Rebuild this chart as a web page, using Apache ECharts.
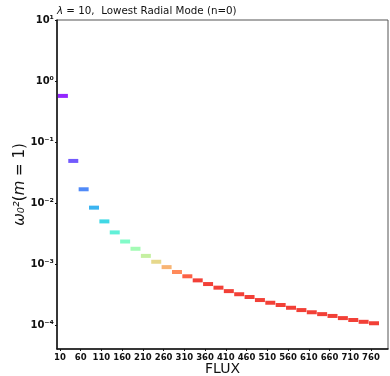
<!DOCTYPE html>
<html>
<head>
<meta charset="utf-8">
<script src="https://cdn.jsdelivr.net/npm/echarts@6/dist/echarts.min.js"></script>
<style>
  html, body { margin: 0; padding: 0; background: #fff; }
  #main { width: 390px; height: 376px; }
</style>
</head>
<body>
<div id="main"></div>
<script>
// flux values (x) and lowest radial mode omega_0^2 (y)
const flux = [10, 35, 60, 85, 110, 135, 160, 185, 210, 235, 260, 285, 310, 335, 360, 385,
  410, 435, 460, 485, 510, 535, 560, 585, 610, 635, 660, 685, 710, 735, 760];
const omega2 = [0.57, 0.049, 0.0168, 0.0084, 0.0050, 0.0033, 0.00234, 0.00178, 0.00136,
  0.00109, 0.00089, 0.00074, 0.00063, 0.00054, 0.00047, 0.00041, 0.00036, 0.00032,
  0.000288, 0.000257, 0.000232, 0.000213, 0.000192, 0.000176, 0.000162, 0.000151,
  0.000141, 0.000130, 0.000121, 0.000113, 0.000107];
const xTicks = [10, 60, 110, 160, 210, 260, 310, 360, 410, 460, 510, 560, 610, 660, 710, 760];
const yTickLabels = { '1': '10¹', '0': '10⁰', '-1': '10⁻¹', '-2': '10⁻²', '-3': '10⁻³', '-4': '10⁻⁴' };

// rainbow colormap
const rainbow = ['#8000ff', '#4d4ffc', '#1996f3', '#1acee3', '#4df3ce', '#80ffb4',
  '#b3f396', '#e6ce74', '#ff964f', '#ff4f28', '#f01e14'];

const chart = echarts.init(document.getElementById('main'));

chart.setOption({
  animation: false,
  backgroundColor: '#fff',
  textStyle: { fontFamily: 'DejaVu Sans' },
  title: {
    text: '{it|λ}{n| = 10,  Lowest Radial Mode (n=0)}',
    left: 57,
    top: 6,
    padding: 0,
    textStyle: {
      fontWeight: 'normal',
      rich: {
        it: { fontStyle: 'italic', fontWeight: 'normal', fontSize: 10.3, color: '#111', fontFamily: 'DejaVu Sans' },
        n: { fontWeight: 'normal', fontSize: 10.3, color: '#111', fontFamily: 'DejaVu Sans' }
      }
    }
  },
  grid: {
    left: 57, right: 2, top: 20, bottom: 27,
    outerBoundsMode: 'none',
    show: true,
    borderColor: '#555',
    borderWidth: 1
  },
  visualMap: {
    show: false,
    type: 'continuous',
    dimension: 0,
    min: 10,
    max: 335,
    inRange: { color: rainbow }
  },
  xAxis: {
    type: 'value',
    min: 3,
    max: 801,
    name: 'FLUX',
    nameLocation: 'middle',
    nameGap: 13,
    nameMoveOverlap: false,
    nameTextStyle: { fontSize: 14, color: '#111' },
    splitLine: { show: false },
    axisLine: { lineStyle: { color: '#111', width: 1.5 } },
    axisTick: { customValues: xTicks, length: 2, lineStyle: { color: '#111' } },
    axisLabel: {
      customValues: xTicks,
      fontSize: 8.5,
      fontWeight: 'bold',
      color: '#111',
      margin: 4
    }
  },
  yAxis: {
    type: 'log',
    logBase: 10,
    min: 4.05e-5,
    max: 10,
    name: '{it|ω₀²}{n|(}{it|m}{n| = 1)}',
    nameLocation: 'middle',
    nameRotate: 90,
    nameGap: 29,
    nameMoveOverlap: false,
    nameTextStyle: {
      rich: {
        it: { fontStyle: 'italic', fontSize: 15, color: '#111', fontFamily: 'DejaVu Sans' },
        n: { fontSize: 15, color: '#111', fontFamily: 'DejaVu Sans' }
      }
    },
    splitLine: { show: false },
    axisLine: { lineStyle: { color: '#111', width: 1.5 } },
    axisTick: { length: 2, lineStyle: { color: '#111' } },
    minorTick: { show: false },
    axisLabel: {
      showMinLabel: false,
      fontSize: 10,
      fontWeight: 'bold',
      color: '#111',
      margin: 3,
      formatter: function (v) {
        const l = Math.log10(v);
        const e = Math.round(l);
        if (Math.abs(l - e) > 1e-6) return '';
        return yTickLabels[String(e)] || '';
      }
    }
  },
  series: [{
    type: 'scatter',
    data: flux.map((f, i) => [f, omega2[i]]),
    symbol: 'rect',
    symbolSize: [10, 4],
    symbolOffset: [3, 0],
    itemStyle: { opacity: 0.85 }
  }]
});
</script>
</body>
</html>
